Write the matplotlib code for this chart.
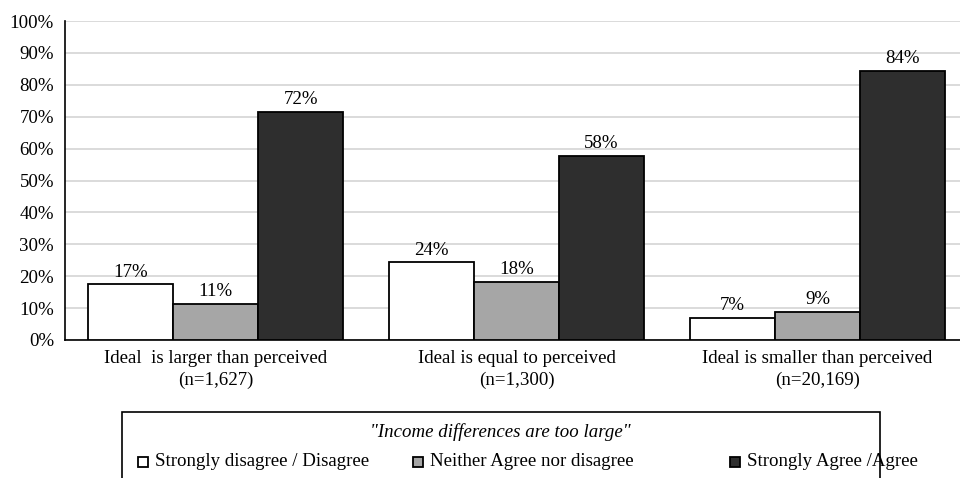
import numpy as np
import matplotlib
matplotlib.use("Agg")
from matplotlib import pyplot as plt
from matplotlib.patches import Rectangle

plt.rcParams['font.family'] = ['Liberation Serif', 'DejaVu Serif']

groups = ['Ideal  is larger than perceived\n(n=1,627)',
          'Ideal is equal to perceived\n(n=1,300)',
          'Ideal is smaller than perceived\n(n=20,169)']
disagree = [17.4, 24.3, 6.8]
neither = [11.2, 18.1, 8.9]
agree = [71.6, 57.8, 84.4]
series_names = ['Strongly disagree / Disagree', 'Neither Agree nor disagree', 'Strongly Agree /Agree']
colors = ['#ffffff', '#a6a6a6', '#2e2e2e']
legend_title = '"Income differences are too large"'

fs = 13.6
fig = plt.figure(figsize=(9.6, 4.78), dpi=100)
ax = fig.add_axes([65/960, 1-340/478, 1-65/960, (340-21)/478])

x = np.arange(len(groups))
w = 0.2824
for i, vals in enumerate([disagree, neither, agree]):
    b = ax.bar(x + (i-1)*w, vals, w, color=colors[i], edgecolor='black', linewidth=1.3, zorder=3)
    for rect, v in zip(b, vals):
        ax.text(rect.get_x() + rect.get_width()/2, v + 1.2, '%d%%' % round(v),
                ha='center', va='bottom', fontsize=fs, zorder=4)

ax.set_xlim(-0.5, 2.473)
ax.set_ylim(0, 100)
ax.set_yticks(range(0, 101, 10))
ax.set_yticklabels(['%d%%' % t for t in range(0, 101, 10)], fontsize=fs)
ax.set_xticks(x)
ax.set_xticklabels(groups, fontsize=fs, linespacing=1.35)
ax.tick_params(axis='x', length=0, pad=7)
ax.tick_params(axis='y', length=0, pad=8)
ax.yaxis.grid(True, color='#d4d4d4', linewidth=1.2, zorder=0)
ax.set_axisbelow(True)
for s in ['top', 'right']:
    ax.spines[s].set_visible(False)
ax.spines['left'].set_linewidth(1.2)
ax.spines['bottom'].set_linewidth(1.2)

# legend box at the bottom (runs off the image edge)
box = Rectangle((122/960, -0.05), (880-122)/960, 0.05 + (478-412)/478,
                transform=fig.transFigure, facecolor='white', edgecolor='black',
                linewidth=1.2, clip_on=False)
fig.patches.append(box)
fig.text(500/960, 1-432/478, legend_title, ha='center', va='center',
         fontsize=fs, style='italic')
item_x = [143, 418, 735]
for px, name, c in zip(item_x, series_names, colors):
    fig.patches.append(Rectangle(((px-5)/960, 1-467/478), 10/960, 10/478,
                                 transform=fig.transFigure, facecolor=c,
                                 edgecolor='black', linewidth=1.3))
    fig.text((px+12)/960, 1-462/478, name, ha='left', va='center', fontsize=fs)

fig.savefig('out.png', dpi=100)
